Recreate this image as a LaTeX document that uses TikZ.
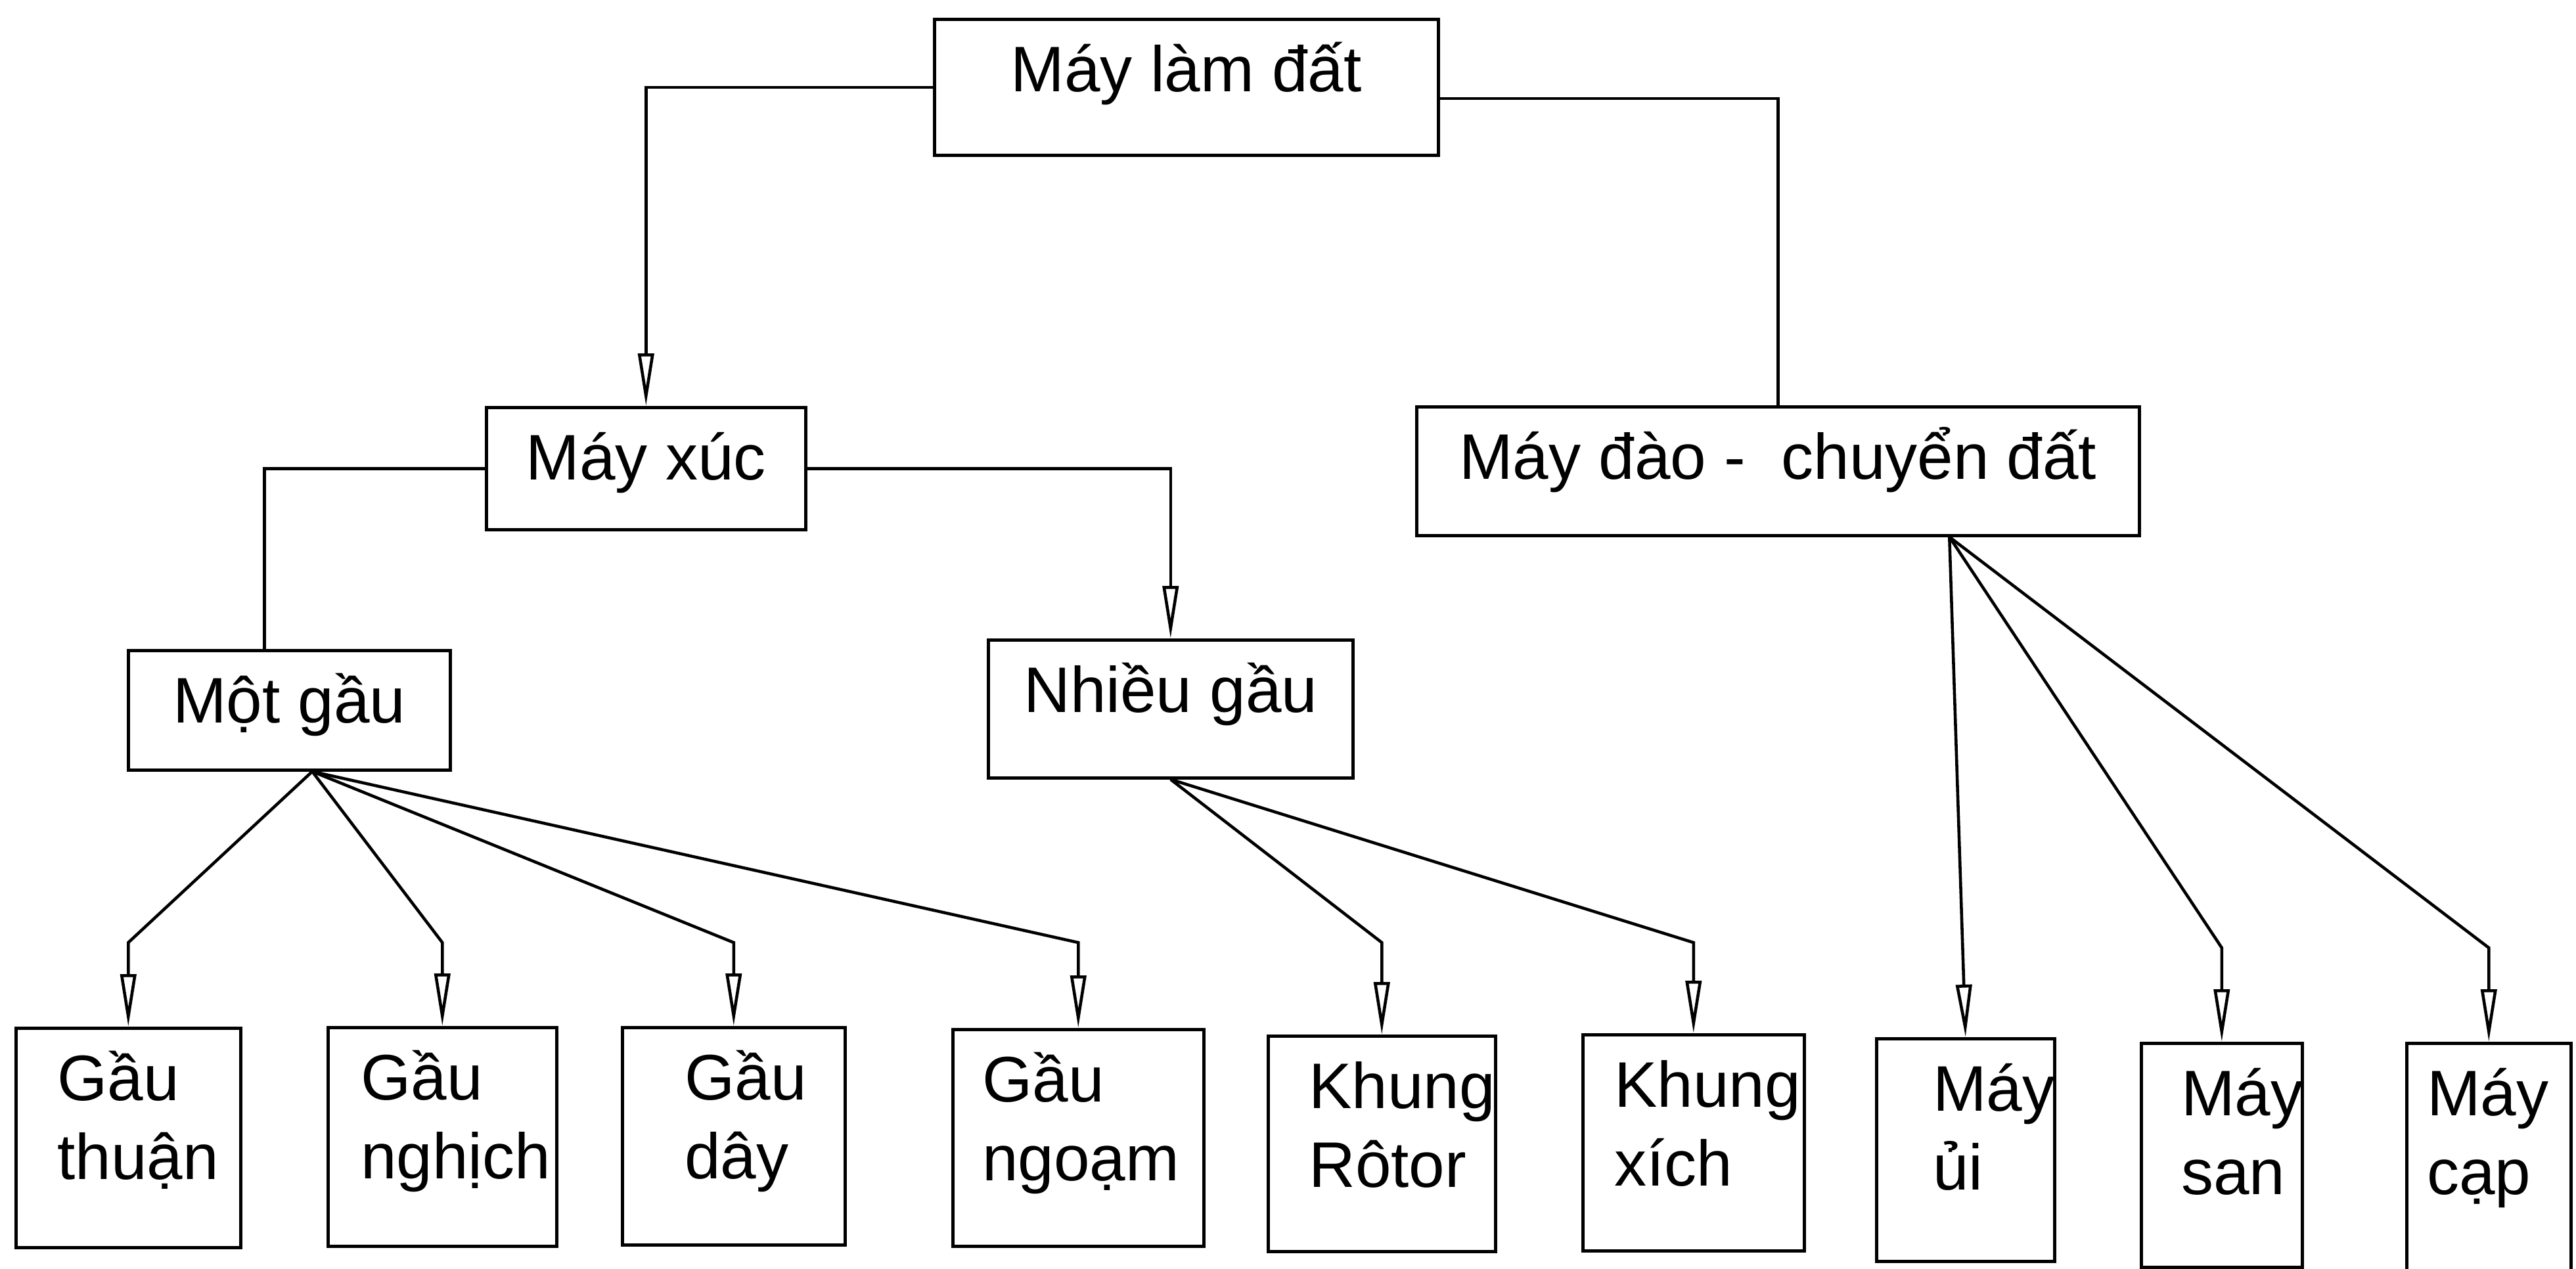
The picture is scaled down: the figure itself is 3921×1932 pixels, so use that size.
\documentclass[tikz,border=0pt]{standalone}
\usepackage{fontspec}
\setmainfont{Liberation Sans}
\usetikzlibrary{arrows.meta}

\begin{document}
\begin{tikzpicture}[x=0.1mm, y=-0.1mm, line width=1.3pt,
    box/.style={draw, anchor=north west, inner xsep=0pt, inner ysep=0pt,
        text height=11mm, align=center, font=\fontsize{27.9}{34.1}\selectfont},
    leaf/.style={box, align=left},
    arr/.style={-{Triangle[open, length=8mm, width=2.4mm]}}]
    \useasboundingbox (0,0) rectangle (3921,1932);

    % hang tren
    \node[box, minimum width=76.7mm, text depth=9.7mm] (lamdat) at (1420,27) {Máy làm đất};
    \node[box, minimum width=48.6mm, text depth=7.6mm] (mayxuc) at (738,618) {Máy xúc};
    \node[box, minimum width=110mm, text depth=8.6mm] (maydao) at (2154,617) {Máy đào -~ chuyển đất};
    \node[box, minimum width=49mm, text depth=7.2mm] (motgau) at (193,988) {Một gầu};
    \node[box, minimum width=55.5mm, text depth=10mm] (nhieugau) at (1502,972) {Nhiều gầu};

    % hang duoi
    \node[leaf, inner xsep=6.3mm, text width=21.6mm, text depth=22.4mm] (gthuan) at (22,1563) {Gầu\\thuận};
    \node[leaf, inner xsep=5mm, text width=24.8mm, text depth=22.3mm] (gnghich) at (497,1562) {Gầu\\nghịch};
    \node[leaf, inner xsep=9.5mm, text width=14.9mm, text depth=22.1mm] (gday) at (945,1562) {Gầu\\dây};
    \node[leaf, inner xsep=4.5mm, text width=29.2mm, text depth=22mm] (gngoam) at (1448,1565) {Gầu\\ngoạm};
    \node[leaf, inner xsep=6.2mm, text width=22.2mm, text depth=21.8mm] (krotor) at (1928,1575) {Khung\\Rôtor};
    \node[leaf, inner xsep=4.8mm, text width=24.1mm, text depth=21.9mm] (kxich) at (2407,1573) {Khung\\xích};
    \node[leaf, inner xsep=8.6mm, text width=9.9mm, text depth=22.9mm] (mui) at (2854,1579) {Máy\\ủi};
    \node[leaf, inner xsep=6.1mm, text width=12.3mm, text depth=23.1mm] (msan) at (3257,1586) {Máy\\san};
    \node[leaf, inner xsep=3.1mm, text width=18.8mm, text depth=26mm] (mcap) at (3661,1586) {Máy\\cạp};

    % noi
    \draw[arr] (lamdat.west) -| (mayxuc.north);
    \draw ([yshift=-1.7mm]lamdat.east) -| (maydao.north);
    \draw (mayxuc.west) -| ([xshift=-3.8mm]motgau.north);
    \draw[arr] (mayxuc.east) -| (nhieugau.north);

    \coordinate (f1) at ([xshift=3.5mm]motgau.south);
    \coordinate (f2) at (nhieugau.south);
    \coordinate (f3) at ([xshift=26.1mm]maydao.south);

    \foreach \c in {gthuan,gnghich,gday,gngoam}
        \draw[arr] (f1) -- (\c.north |- 0,1435) -- (\c.north);
    \foreach \c in {krotor,kxich}
        \draw[arr] (f2) -- (\c.north |- 0,1435) -- (\c.north);
    \draw[arr] (f3) -- (mui.north);
    \foreach \c in {msan,mcap}
        \draw[arr] (f3) -- (\c.north |- 0,1443) -- (\c.north);
\end{tikzpicture}
\end{document}
